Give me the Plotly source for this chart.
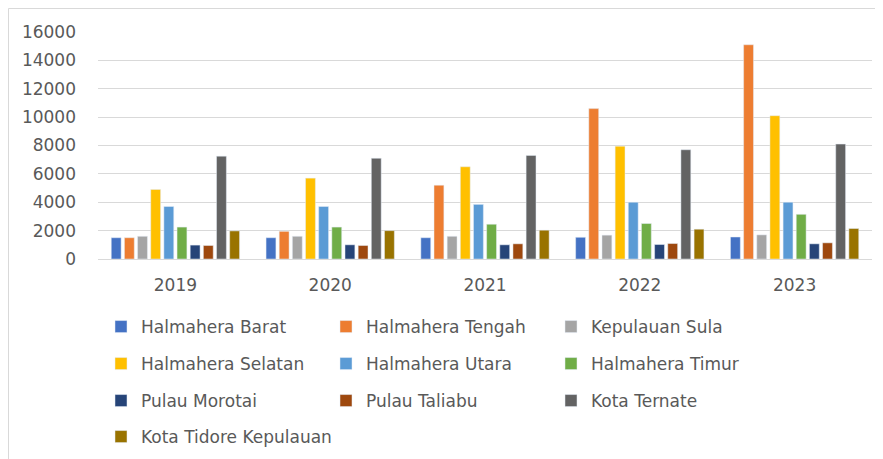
import plotly.graph_objects as go

years = ["2019", "2020", "2021", "2022", "2023"]
series_names = [
    "Halmahera Barat", "Halmahera Tengah", "Kepulauan Sula",
    "Halmahera Selatan", "Halmahera Utara", "Halmahera Timur",
    "Pulau Morotai", "Pulau Taliabu", "Kota Ternate",
    "Kota Tidore Kepulauan",
]
halmahera_barat = [1500, 1500, 1500, 1530, 1550]
halmahera_tengah = [1500, 1950, 5200, 10600, 15100]
kepulauan_sula = [1600, 1600, 1600, 1680, 1700]
halmahera_selatan = [4900, 5700, 6500, 7950, 10100]
halmahera_utara = [3700, 3700, 3850, 4000, 4000]
halmahera_timur = [2250, 2250, 2450, 2500, 3150]
pulau_morotai = [980, 1000, 1000, 1020, 1070]
pulau_taliabu = [950, 950, 1070, 1090, 1140]
kota_ternate = [7250, 7100, 7300, 7700, 8100]
kota_tidore = [1980, 2000, 2030, 2100, 2150]
values = [halmahera_barat, halmahera_tengah, kepulauan_sula, halmahera_selatan,
          halmahera_utara, halmahera_timur, pulau_morotai, pulau_taliabu,
          kota_ternate, kota_tidore]
colors = ["#4472C4", "#ED7D31", "#A5A5A5", "#FFC000", "#5B9BD5",
          "#70AD47", "#264478", "#9E480E", "#636363", "#997300"]
y_ticks = list(range(0, 16001, 2000))
y_tick_labels = [str(v) for v in y_ticks]

# page body has an 8px margin; work in figure coordinates
OFF = 8
W, H = 883 - OFF, 459 - OFF
ml, mr, mt, mb = 98 - OFF, 11, 32 - OFF, 200
pw, ph = W - ml - mr, H - mt - mb

legend_rows = ["legend", "legend2", "legend3", "legend4"]
row_y_px = [327, 364, 401, 437]   # screenshot coords
row_entrywidth = [180, 180, 180, 260]

fig = go.Figure()
for i, (name, vals, col) in enumerate(zip(series_names, values, colors)):
    fig.add_trace(go.Bar(
        x=years, y=vals, name=name, marker_color=col,
        legend=legend_rows[i // 3],
    ))

font_family = "DejaVu Sans"
def px_to_paper_x(px):
    return (px - OFF - ml) / pw
def px_to_paper_y(py):
    return (H - mb - (py - OFF)) / ph

legend_common = dict(
    orientation="h", xanchor="left", yanchor="middle",
    entrywidthmode="pixels", itemwidth=30,
    font=dict(family=font_family, size=17, color="#595959"),
    bgcolor="rgba(0,0,0,0)", traceorder="normal",
)
layout_legends = {}
for lg, py, ew in zip(legend_rows, row_y_px, row_entrywidth):
    layout_legends[lg] = dict(legend_common, entrywidth=ew,
                              x=px_to_paper_x(101), y=px_to_paper_y(py))

fig.update_layout(
    width=W, height=H,
    margin=dict(l=ml, r=mr, t=mt, b=mb, autoexpand=False),
    paper_bgcolor="white", plot_bgcolor="white",
    barmode="group", bargap=0.15, bargroupgap=0.25,
    font=dict(family=font_family, color="#595959"),
    xaxis=dict(showgrid=False, showline=False, ticks="",
               tickfont=dict(size=17, color="#595959"),
               ticklabelstandoff=14),
    yaxis=dict(range=[0, 16000], tickvals=y_ticks, ticktext=y_tick_labels,
               showgrid=True,
               gridcolor="#D9D9D9", gridwidth=1, zeroline=True,
               zerolinecolor="#D9D9D9", zerolinewidth=1,
               tickfont=dict(size=17, color="#595959"), ticks="",
               ticklabelstandoff=21),
    shapes=[dict(type="rect", xref="paper", yref="paper",
                 x0=px_to_paper_x(8.5), x1=px_to_paper_x(879),
                 y0=px_to_paper_y(470), y1=px_to_paper_y(8.5),
                 line=dict(color="#D9D9D9", width=1), fillcolor="rgba(0,0,0,0)",
                 layer="below")],
    **layout_legends,
)
fig.write_html("out.html")
